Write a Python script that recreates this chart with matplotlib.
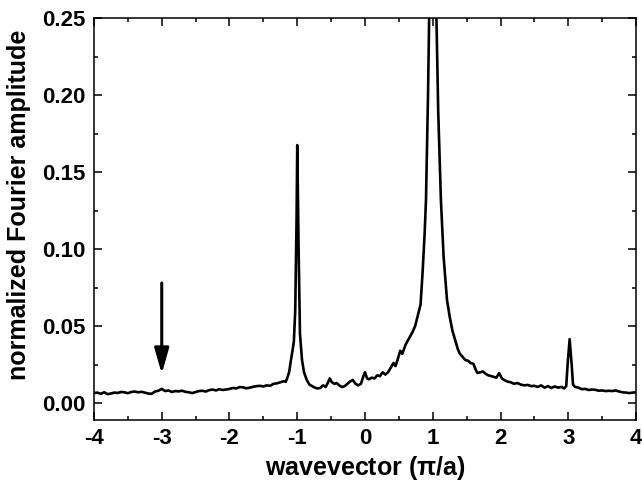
import matplotlib
matplotlib.use("Agg")
import matplotlib.pyplot as plt
from matplotlib.ticker import MultipleLocator, FormatStrFormatter, FuncFormatter

wavevector = [
    -4.00, -3.95, -3.90, -3.85, -3.80, -3.75, -3.70, -3.65, -3.60, -3.55,
    -3.50, -3.45, -3.40, -3.35, -3.30, -3.25, -3.20, -3.15, -3.10, -3.05,
    -3.00, -2.95, -2.90, -2.85, -2.80, -2.75, -2.70, -2.65, -2.60, -2.55,
    -2.50, -2.45, -2.40, -2.35, -2.30, -2.25, -2.20, -2.15, -2.10, -2.05,
    -2.00, -1.95, -1.90, -1.85, -1.80, -1.75, -1.70, -1.65, -1.60, -1.55,
    -1.50, -1.45, -1.40, -1.35, -1.30, -1.25, -1.20, -1.17, -1.15, -1.12,
    -1.10, -1.07, -1.05, -1.03, -1.01, -1.00, -0.98, -0.96, -0.93, -0.90,
    -0.86, -0.82, -0.78, -0.74, -0.70, -0.66, -0.62, -0.58, -0.55, -0.52,
    -0.49, -0.45, -0.42, -0.38, -0.34, -0.30, -0.26, -0.22, -0.18, -0.14,
    -0.10, -0.06, -0.02, 0.00, 0.03, 0.06, 0.10, 0.14, 0.18, 0.22,
    0.26, 0.30, 0.34, 0.38, 0.42, 0.45, 0.48, 0.52, 0.55, 0.60,
    0.65, 0.70, 0.74, 0.78, 0.82, 0.85, 0.88, 0.90, 0.93, 0.95,
    1.00, 1.05, 1.08, 1.12, 1.16, 1.21, 1.25, 1.29, 1.33, 1.37,
    1.40, 1.44, 1.48, 1.52, 1.56, 1.60, 1.63, 1.66, 1.70, 1.74,
    1.78, 1.82, 1.86, 1.90, 1.94, 1.98, 2.02, 2.06, 2.10, 2.15,
    2.20, 2.25, 2.30, 2.35, 2.40, 2.45, 2.50, 2.55, 2.60, 2.65,
    2.70, 2.75, 2.80, 2.85, 2.90, 2.94, 2.97, 2.99, 3.02, 3.05,
    3.07, 3.10, 3.15, 3.20, 3.25, 3.30, 3.35, 3.40, 3.45, 3.50,
    3.55, 3.60, 3.65, 3.70, 3.75, 3.80, 3.85, 3.90, 3.95, 4.00,
]

amplitude = [
    0.0065, 0.0068, 0.0060, 0.0070, 0.0058, 0.0062, 0.0068, 0.0066, 0.0072, 0.0070,
    0.0064, 0.0072, 0.0075, 0.0070, 0.0073, 0.0068, 0.0062, 0.0060, 0.0075, 0.0080,
    0.0092, 0.0078, 0.0082, 0.0072, 0.0078, 0.0076, 0.0080, 0.0073, 0.0070, 0.0065,
    0.0072, 0.0078, 0.0080, 0.0075, 0.0084, 0.0088, 0.0082, 0.0090, 0.0085, 0.0088,
    0.0092, 0.0098, 0.0095, 0.0104, 0.0102, 0.0096, 0.0100, 0.0106, 0.0110, 0.0112,
    0.0108, 0.0115, 0.0112, 0.0125, 0.0128, 0.0135, 0.0142, 0.0138, 0.0160, 0.0200,
    0.0260, 0.0340, 0.0400, 0.0600, 0.1200, 0.1675, 0.1000, 0.0450, 0.0280, 0.0200,
    0.0150, 0.0120, 0.0110, 0.0100, 0.0095, 0.0098, 0.0115, 0.0105, 0.0130, 0.0160,
    0.0135, 0.0125, 0.0130, 0.0115, 0.0104, 0.0110, 0.0125, 0.0140, 0.0150, 0.0125,
    0.0115, 0.0125, 0.0180, 0.0200, 0.0160, 0.0155, 0.0165, 0.0160, 0.0180, 0.0175,
    0.0200, 0.0185, 0.0200, 0.0230, 0.0260, 0.0240, 0.0280, 0.0340, 0.0320, 0.0380,
    0.0420, 0.0460, 0.0500, 0.0570, 0.0640, 0.0850, 0.1100, 0.1320, 0.2000, 0.2600,
    0.5000, 0.2600, 0.1900, 0.1320, 0.0950, 0.0670, 0.0560, 0.0470, 0.0410, 0.0350,
    0.0320, 0.0300, 0.0280, 0.0275, 0.0260, 0.0255, 0.0220, 0.0195, 0.0200, 0.0205,
    0.0190, 0.0180, 0.0175, 0.0170, 0.0165, 0.0195, 0.0160, 0.0148, 0.0140, 0.0135,
    0.0125, 0.0130, 0.0120, 0.0115, 0.0118, 0.0110, 0.0112, 0.0105, 0.0115, 0.0100,
    0.0110, 0.0098, 0.0108, 0.0100, 0.0105, 0.0095, 0.0110, 0.0250, 0.0415, 0.0250,
    0.0120, 0.0105, 0.0100, 0.0090, 0.0092, 0.0085, 0.0088, 0.0086, 0.0080, 0.0082,
    0.0078, 0.0080, 0.0078, 0.0082, 0.0075, 0.0070, 0.0068, 0.0065, 0.0068, 0.0070,
]

arrow_x = -3.0
arrow_top = 0.078
arrow_tip = 0.019

plt.rcParams['font.family'] = ['Liberation Sans', 'DejaVu Sans']
plt.rcParams['font.weight'] = 'bold'
plt.rcParams['mathtext.fontset'] = 'stix'
plt.rcParams['xtick.labelsize'] = 16
plt.rcParams['ytick.labelsize'] = 16

fig = plt.figure(figsize=(6.42, 4.84), dpi=100)
ax = fig.add_axes([0.1464, 0.1322, 0.8443, 0.8306])

ax.plot(wavevector, amplitude, color='black', lw=1.9, solid_joinstyle='round')

ax.annotate('', xy=(arrow_x, arrow_tip), xytext=(arrow_x, arrow_top),
            arrowprops=dict(arrowstyle='-|>,head_width=0.4,head_length=1.4',
                            mutation_scale=11, color='black', lw=2.2,
                            shrinkA=0, shrinkB=0))

ax.set_xlim(-4, 4)
ax.set_ylim(-0.011, 0.25)
ax.xaxis.set_major_locator(MultipleLocator(1))
ax.xaxis.set_minor_locator(MultipleLocator(0.5))
ax.yaxis.set_major_locator(MultipleLocator(0.05))
ax.yaxis.set_minor_locator(MultipleLocator(0.025))
ax.yaxis.set_major_formatter(FormatStrFormatter('%.2f'))
ax.xaxis.set_major_formatter(FuncFormatter(lambda v, p: f'{int(round(v))}'))

ax.tick_params(which='both', direction='in', top=True, right=True, width=1.1)
ax.tick_params(which='major', length=6, labelsize=16, pad=6)
ax.tick_params(which='minor', length=3)
for sp in ax.spines.values():
    sp.set_linewidth(1.1)

ax.set_xlabel(r'wavevector ($\mathregular{\pi}$/a)', fontsize=18, fontweight='bold', labelpad=3)
ax.set_ylabel('normalized Fourier amplitude', fontsize=18, fontweight='bold')
ax.yaxis.set_label_coords(-0.117, 0.535)

fig.savefig('out.png', dpi=100)
